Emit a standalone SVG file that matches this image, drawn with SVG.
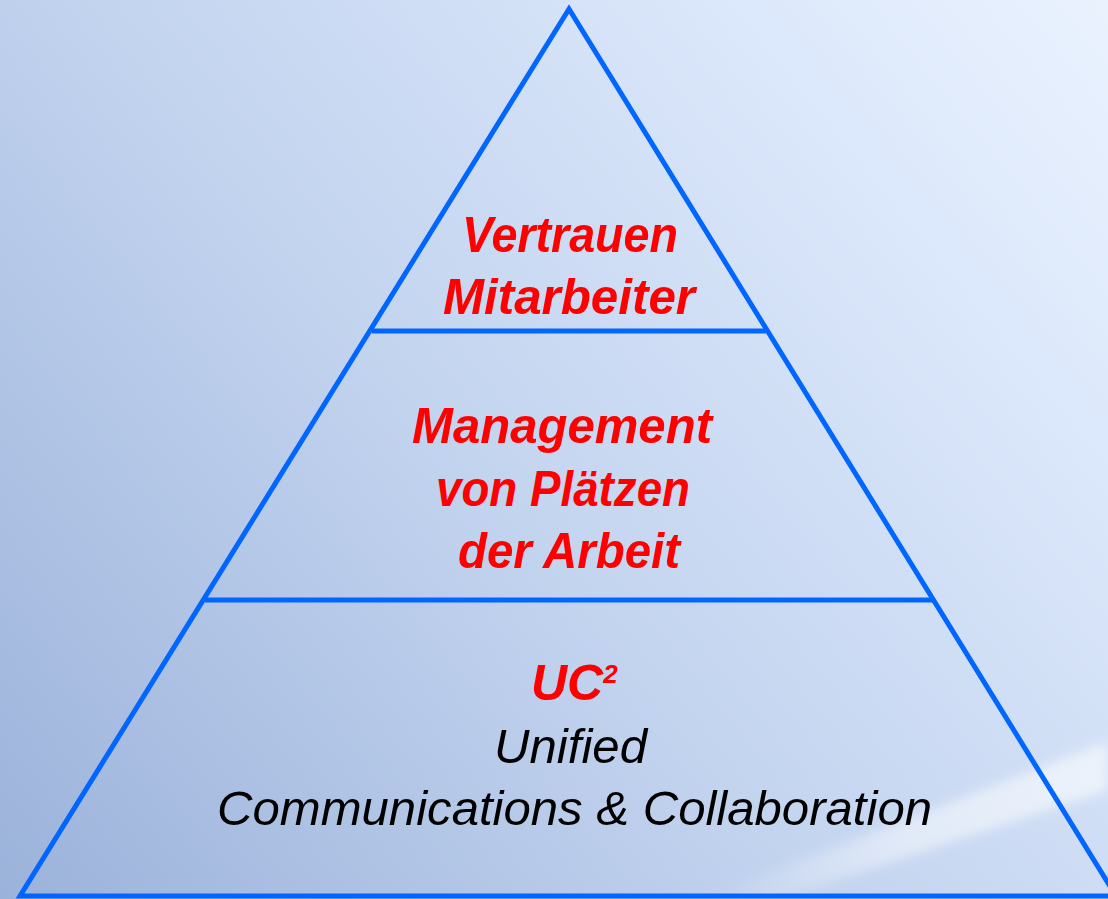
<svg xmlns="http://www.w3.org/2000/svg" width="1108" height="899" viewBox="0 0 1108 899">
  <defs>
    <linearGradient id="bg" x1="0" y1="899" x2="1108" y2="0" gradientUnits="userSpaceOnUse">
      <stop offset="0" stop-color="#9bb2da"/>
      <stop offset="0.45" stop-color="#c3d4ef"/>
      <stop offset="0.8" stop-color="#dce8fb"/>
      <stop offset="1" stop-color="#eaf2fe"/>
    </linearGradient>
    <linearGradient id="streak" x1="0" y1="0" x2="1" y2="0">
      <stop offset="0" stop-color="#ffffff" stop-opacity="0"/>
      <stop offset="0.5" stop-color="#ffffff" stop-opacity="0.45"/>
      <stop offset="1" stop-color="#ffffff" stop-opacity="0.6"/>
    </linearGradient>
    <filter id="blur" x="-20%" y="-20%" width="140%" height="140%">
      <feGaussianBlur stdDeviation="6"/>
    </filter>
  </defs>
  <style>
    .edge { fill: none; stroke: #0066ff; stroke-width: 5; stroke-linejoin: miter; }
    .red { font-family: "Liberation Sans", Arial, sans-serif; font-weight: bold; font-style: italic; fill: #ff0000; font-size: 50px; }
    .blk { font-family: "Liberation Sans", Arial, sans-serif; font-style: italic; fill: #000000; font-size: 49px; }
  </style>
  <rect x="0" y="0" width="1108" height="899" fill="url(#bg)"/>
  <polygon points="700,899 1108,742 1108,790 780,899" fill="url(#streak)" filter="url(#blur)"/>

  <g id="connectors">
    <polygon class="edge" points="569,9 20,896 1116,896"/>
    <line class="edge" x1="372" y1="331" x2="766" y2="331"/>
    <line class="edge" x1="205" y1="600" x2="934" y2="600"/>
  </g>

  <g id="level-top">
    <text class="red" x="462" y="252" textLength="216" lengthAdjust="spacingAndGlyphs">Vertrauen</text>
    <text class="red" x="443" y="314" textLength="252" lengthAdjust="spacingAndGlyphs">Mitarbeiter</text>
  </g>

  <g id="level-middle">
    <text class="red" x="412" y="443" textLength="300" lengthAdjust="spacingAndGlyphs">Management</text>
    <text class="red" x="436" y="506" textLength="254" lengthAdjust="spacingAndGlyphs">von Plätzen</text>
    <text class="red" x="458" y="568" textLength="222" lengthAdjust="spacingAndGlyphs">der Arbeit</text>
  </g>

  <g id="level-bottom">
    <text class="red" x="531" y="700" font-size="48">UC<tspan font-size="26" dy="-17">2</tspan></text>
    <text class="blk" x="494" y="763" textLength="153" lengthAdjust="spacingAndGlyphs">Unified</text>
    <text class="blk" x="217" y="825" textLength="715" lengthAdjust="spacingAndGlyphs">Communications &amp; Collaboration</text>
  </g>
</svg>
